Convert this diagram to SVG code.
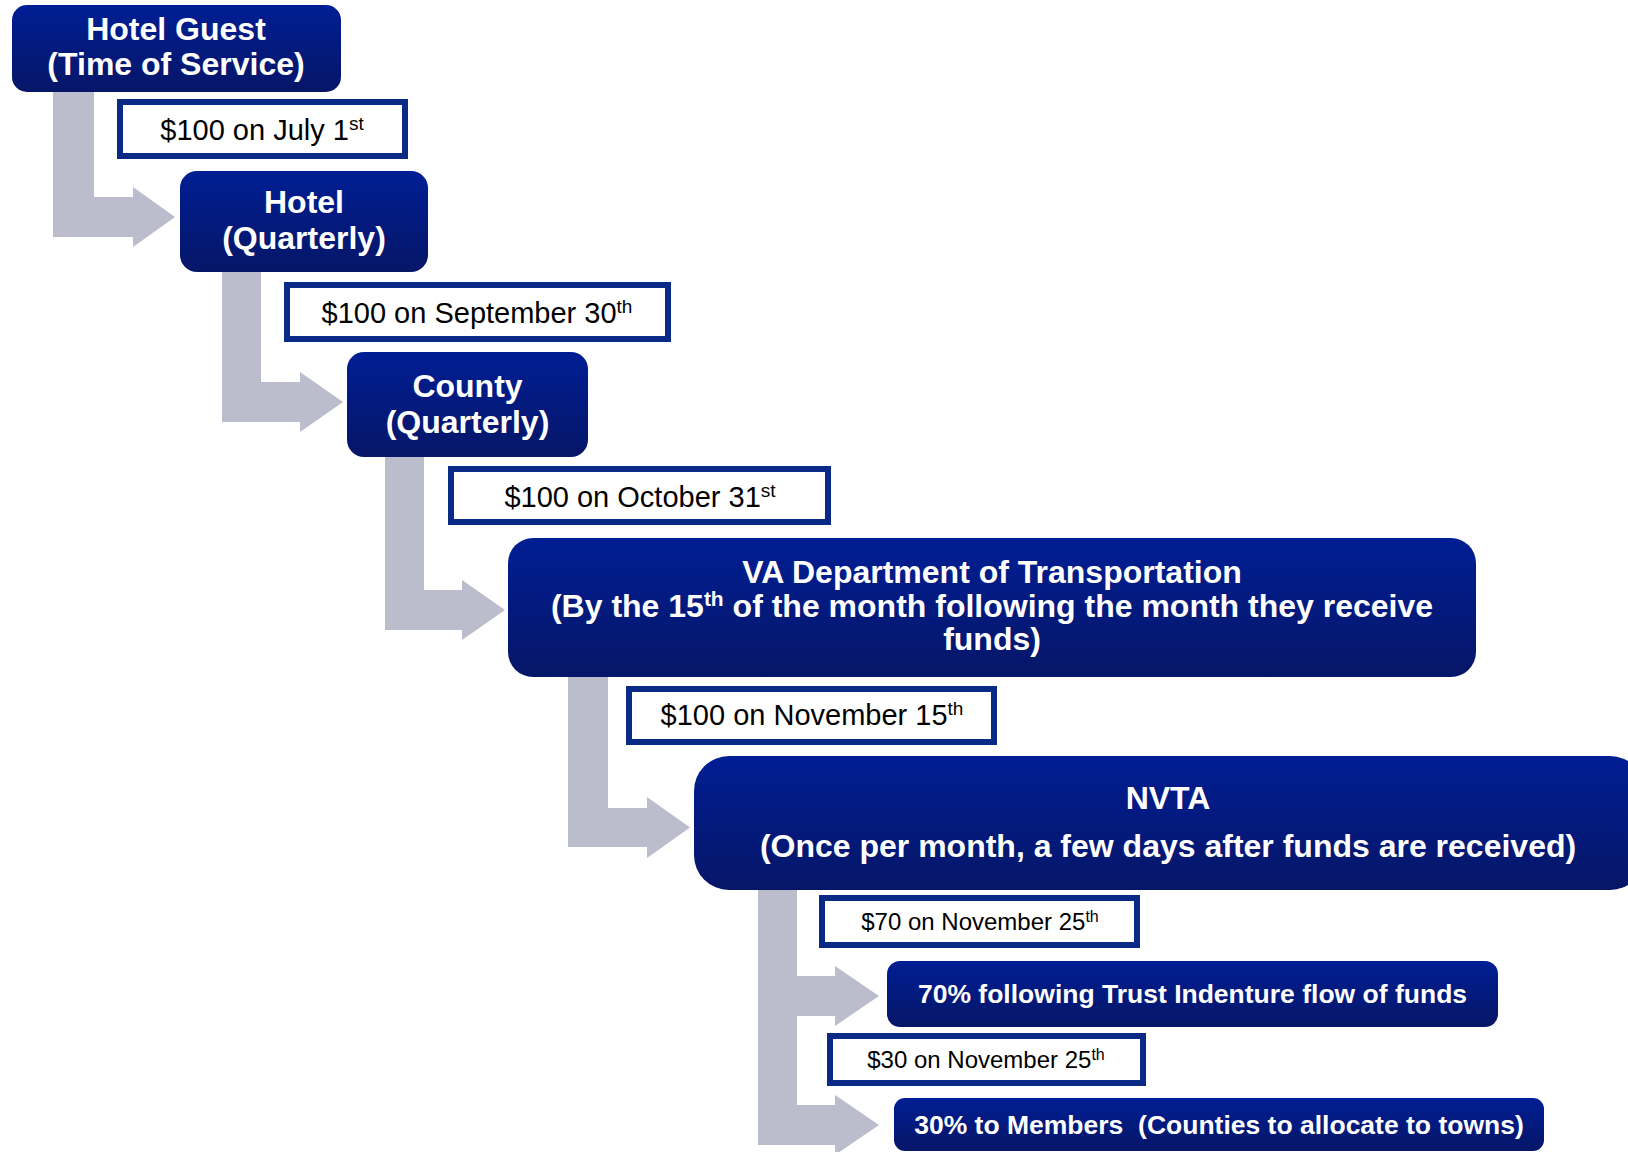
<svg xmlns="http://www.w3.org/2000/svg" width="1628" height="1152" viewBox="0 0 1628 1152">
<defs>
<linearGradient id="boxGrad" x1="0" y1="0" x2="0" y2="1">
<stop offset="0" stop-color="#001e94"/>
<stop offset="1" stop-color="#061667"/>
</linearGradient>
</defs>
<style>
.node{fill:url(#boxGrad);}
.nt{font-family:"Liberation Sans",Arial,sans-serif;font-weight:bold;fill:#ffffff;text-anchor:middle;font-size:32px;}
.st{font-size:26.5px;}
.lab{fill:#ffffff;stroke:#0a2a86;stroke-width:6;}
.lt{font-family:"Liberation Sans",Arial,sans-serif;fill:#000000;text-anchor:middle;font-size:29px;}
.ls{font-size:24px;}
.conn{fill:#bbbccc;}
</style>
<rect width="1628" height="1152" fill="#ffffff"/>
<g id="connectors">
<path class="conn" d="M53,92 H94 V197 H133 V187 L175,217 L133,247 V237 H53 Z"/>
<path class="conn" d="M222,272 H261 V382 H300 V372 L343,402 L300,432 V422 H222 Z"/>
<path class="conn" d="M385,457 H424 V590 H462 V580 L505,610 L462,640 V630 H385 Z"/>
<path class="conn" d="M568,677 H608 V808 H647 V797 L690,827.5 L647,858 V847 H568 Z"/>
<path class="conn" d="M758,890 H797 V976 H835 V966 L879,996 L835,1026 V1016 H797 V1105 H835 V1095 L879,1125 L835,1155 V1145 H758 Z"/>
</g>
<g id="node-hotel-guest">
<rect class="node" x="12" y="5" width="329" height="87" rx="15"/>
<text class="nt" x="176" y="40">Hotel Guest</text>
<text class="nt" x="176" y="75">(Time of Service)</text>
</g>
<g id="label-july">
<rect class="lab" x="120" y="102" width="285" height="54"/>
<text class="lt" x="262" y="140">$100 on July 1<tspan font-size="19" dy="-10">st</tspan></text>
</g>
<g id="node-hotel">
<rect class="node" x="180" y="171" width="248" height="101" rx="17"/>
<text class="nt" x="304" y="213">Hotel</text>
<text class="nt" x="304" y="249">(Quarterly)</text>
</g>
<g id="label-sept">
<rect class="lab" x="287" y="285" width="381" height="54"/>
<text class="lt" x="477" y="323">$100 on September 30<tspan font-size="19" dy="-10">th</tspan></text>
</g>
<g id="node-county">
<rect class="node" x="347" y="352" width="241" height="105" rx="17"/>
<text class="nt" x="467.5" y="397">County</text>
<text class="nt" x="467.5" y="433">(Quarterly)</text>
</g>
<g id="label-oct">
<rect class="lab" x="451" y="469" width="377" height="53"/>
<text class="lt" x="640" y="507">$100 on October 31<tspan font-size="19" dy="-10">st</tspan></text>
</g>
<g id="node-vdot">
<rect class="node" x="508" y="538" width="968" height="139" rx="25"/>
<text class="nt" x="992" y="583">VA Department of Transportation</text>
<text class="nt" x="992" y="617">(By the 15<tspan font-size="21" dy="-11">th</tspan><tspan dy="11"> of the month following the month they receive</tspan></text>
<text class="nt" x="992" y="650">funds)</text>
</g>
<g id="label-nov15">
<rect class="lab" x="629" y="689" width="365" height="53"/>
<text class="lt" x="812" y="725">$100 on November 15<tspan font-size="19" dy="-10">th</tspan></text>
</g>
<g id="node-nvta">
<rect class="node" x="694" y="756" width="951" height="134" rx="35"/>
<text class="nt" x="1168" y="809">NVTA</text>
<text class="nt" x="1168" y="857">(Once per month, a few days after funds are received)</text>
</g>
<g id="label-70">
<rect class="lab" x="822" y="898" width="315" height="47"/>
<text class="lt ls" x="980" y="930">$70 on November 25<tspan font-size="16" dy="-8">th</tspan></text>
</g>
<g id="node-trust">
<rect class="node" x="887" y="961" width="611" height="66" rx="13"/>
<text class="nt st" x="1192.5" y="1003">70% following Trust Indenture flow of funds</text>
</g>
<g id="label-30">
<rect class="lab" x="830" y="1036" width="313" height="47"/>
<text class="lt ls" x="986" y="1068">$30 on November 25<tspan font-size="16" dy="-8">th</tspan></text>
</g>
<g id="node-members">
<rect class="node" x="894" y="1098" width="650" height="53" rx="11"/>
<text class="nt st" x="1219" y="1134" xml:space="preserve">30% to Members  (Counties to allocate to towns)</text>
</g>
</svg>
